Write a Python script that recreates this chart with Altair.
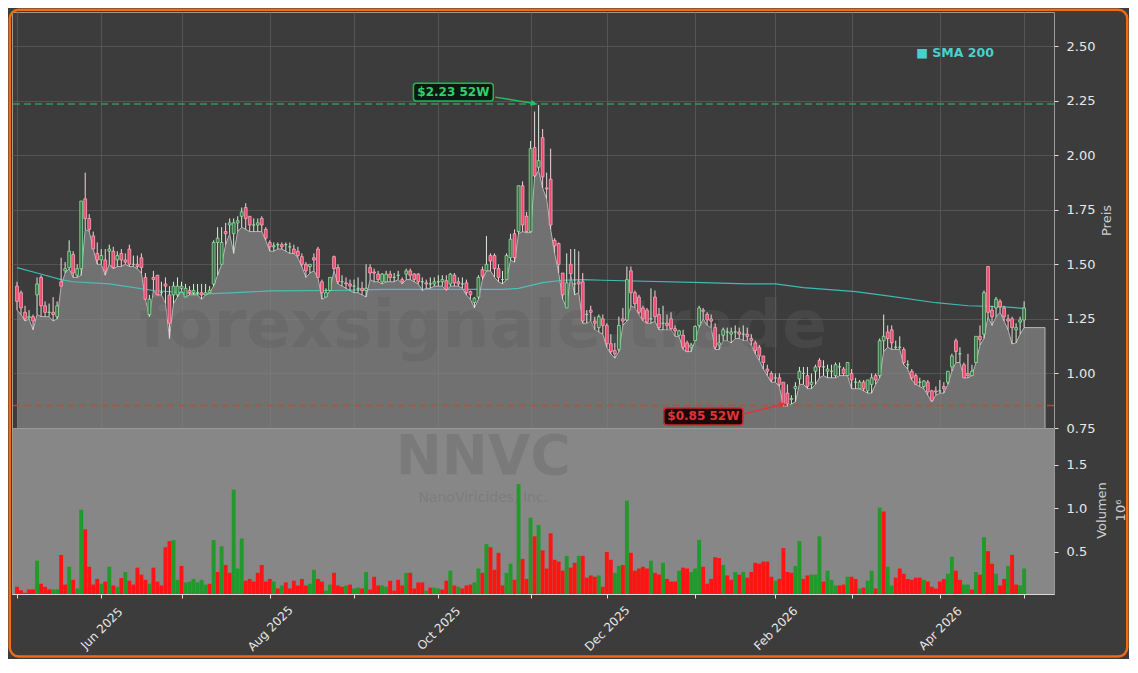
import altair as alt
import pandas as pd

# ---------------- data ----------------
OPEN = [1.40,1.37,1.28,1.255,1.26,1.36,1.44,1.31,1.28,1.28,1.26,1.42,1.47,1.485,1.545,1.45,1.48,1.80,1.71,1.63,
        1.55,1.52,1.52,1.56,1.56,1.52,1.55,1.52,1.57,1.50,1.50,1.53,1.44,1.27,1.44,1.45,1.37,1.41,1.36,1.36,
        1.36,1.39,1.35,1.38,1.37,1.37,1.37,1.36,1.37,1.41,1.60,1.50,1.65,1.68,1.64,1.69,1.72,1.76,1.72,1.68,
        1.68,1.71,1.66,1.60,1.58,1.59,1.59,1.59,1.58,1.57,1.56,1.535,1.50,1.49,1.53,1.57,1.42,1.35,1.38,1.535,
        1.485,1.42,1.415,1.41,1.40,1.39,1.39,1.38,1.485,1.465,1.455,1.42,1.42,1.455,1.44,1.45,1.43,1.455,1.47,1.455,
        1.455,1.42,1.415,1.41,1.41,1.42,1.42,1.425,1.41,1.45,1.42,1.41,1.415,1.375,1.325,1.35,1.475,1.47,1.54,1.54,
        1.48,1.43,1.43,1.53,1.64,1.65,1.86,1.72,1.65,2.035,1.945,2.08,1.85,1.89,1.61,1.595,1.46,1.30,1.50,1.41,
        1.42,1.42,1.27,1.29,1.24,1.21,1.25,1.22,1.136,1.105,1.11,1.25,1.245,1.47,1.37,1.35,1.30,1.29,1.25,1.35,
        1.27,1.23,1.23,1.25,1.205,1.175,1.175,1.14,1.12,1.15,1.22,1.29,1.27,1.25,1.21,1.13,1.175,1.19,1.18,1.19,
        1.19,1.18,1.18,1.16,1.14,1.12,1.08,1.02,1.00,0.98,0.98,0.96,0.91,0.88,0.93,0.975,1.00,0.99,0.95,1.01,
        1.06,1.03,1.01,1.01,0.99,1.03,1.02,0.99,1.00,0.96,0.93,0.96,0.92,0.95,0.99,0.99,1.15,1.19,1.20,1.12,
        1.12,1.11,1.04,1.01,0.99,0.96,0.94,0.96,0.92,0.92,0.92,0.94,0.96,1.03,1.15,1.09,1.04,1.00,0.99,1.05,
        1.17,1.18,1.49,1.29,1.30,1.33,1.30,1.25,1.25,1.20,1.235,1.245]
HIGH = [1.42,1.38,1.31,1.29,1.27,1.44,1.45,1.33,1.32,1.35,1.33,1.53,1.51,1.61,1.56,1.50,1.79,1.92,1.73,1.65,
        1.60,1.57,1.57,1.59,1.58,1.56,1.57,1.55,1.59,1.54,1.54,1.55,1.46,1.36,1.47,1.45,1.42,1.44,1.40,1.42,
        1.44,1.42,1.41,1.40,1.41,1.41,1.41,1.41,1.40,1.61,1.67,1.67,1.69,1.71,1.71,1.72,1.76,1.78,1.72,1.71,
        1.71,1.72,1.67,1.61,1.60,1.60,1.60,1.60,1.60,1.59,1.58,1.55,1.51,1.50,1.55,1.58,1.43,1.39,1.44,1.54,
        1.50,1.45,1.44,1.43,1.43,1.44,1.42,1.50,1.50,1.48,1.47,1.46,1.47,1.47,1.46,1.47,1.44,1.48,1.48,1.46,
        1.46,1.44,1.43,1.44,1.44,1.45,1.45,1.45,1.46,1.46,1.44,1.44,1.43,1.38,1.35,1.45,1.49,1.63,1.55,1.55,
        1.50,1.47,1.55,1.64,1.66,1.86,1.88,1.74,2.065,2.20,2.23,2.12,1.92,2.03,1.62,1.60,1.46,1.55,1.57,1.57,
        1.56,1.46,1.29,1.31,1.26,1.27,1.27,1.23,1.18,1.14,1.26,1.30,1.49,1.49,1.38,1.36,1.31,1.30,1.39,1.38,
        1.30,1.31,1.27,1.28,1.22,1.20,1.20,1.15,1.14,1.22,1.31,1.30,1.28,1.27,1.23,1.18,1.21,1.21,1.21,1.22,
        1.21,1.22,1.21,1.18,1.15,1.13,1.08,1.04,1.01,1.00,1.00,0.96,0.95,0.90,0.96,1.03,1.03,1.03,1.00,1.04,
        1.07,1.06,1.04,1.04,1.05,1.05,1.03,1.05,1.02,0.98,0.97,0.97,0.97,1.00,1.00,1.16,1.27,1.22,1.22,1.15,
        1.17,1.12,1.06,1.02,1.00,0.98,0.97,0.97,0.925,0.94,0.97,0.96,1.01,1.09,1.16,1.12,1.05,1.09,1.04,1.17,
        1.22,1.38,1.49,1.31,1.35,1.34,1.31,1.27,1.26,1.23,1.26,1.33]
LOW = [1.29,1.27,1.24,1.25,1.20,1.27,1.26,1.26,1.26,1.24,1.25,1.40,1.46,1.48,1.44,1.44,1.45,1.66,1.65,1.57,
       1.50,1.50,1.45,1.50,1.48,1.49,1.49,1.50,1.49,1.49,1.48,1.46,1.34,1.26,1.38,1.36,1.36,1.32,1.16,1.32,
       1.35,1.38,1.35,1.36,1.36,1.36,1.34,1.36,1.37,1.40,1.45,1.50,1.59,1.64,1.55,1.65,1.67,1.66,1.65,1.65,
       1.65,1.65,1.61,1.56,1.56,1.57,1.57,1.56,1.55,1.55,1.53,1.49,1.44,1.46,1.47,1.44,1.34,1.35,1.38,1.47,
       1.41,1.40,1.39,1.38,1.37,1.37,1.36,1.35,1.43,1.42,1.42,1.41,1.42,1.42,1.42,1.43,1.41,1.43,1.43,1.42,
       1.41,1.38,1.39,1.39,1.40,1.40,1.40,1.38,1.40,1.40,1.40,1.39,1.36,1.34,1.30,1.34,1.43,1.47,1.47,1.44,
       1.42,1.41,1.43,1.52,1.51,1.64,1.65,1.645,1.645,1.90,1.93,1.85,1.80,1.66,1.55,1.46,1.34,1.30,1.45,1.36,
       1.37,1.23,1.23,1.24,1.20,1.19,1.18,1.12,1.09,1.07,1.10,1.22,1.24,1.31,1.30,1.27,1.24,1.23,1.23,1.24,
       1.20,1.20,1.20,1.20,1.17,1.17,1.11,1.10,1.10,1.15,1.21,1.25,1.22,1.21,1.11,1.11,1.15,1.15,1.14,1.16,
       1.16,1.15,1.15,1.13,1.09,1.06,1.02,0.99,0.96,0.96,0.94,0.85,0.85,0.86,0.87,0.95,0.95,0.93,0.93,0.95,
       0.98,0.99,0.98,0.98,0.98,0.99,0.99,0.99,0.93,0.93,0.93,0.92,0.91,0.91,0.95,0.98,1.10,1.12,1.11,1.11,
       1.11,1.04,1.02,0.97,0.95,0.94,0.93,0.90,0.87,0.90,0.91,0.91,0.95,1.01,1.05,1.05,0.98,0.98,0.99,1.05,
       1.13,1.16,1.26,1.22,1.26,1.28,1.24,1.20,1.135,1.14,1.18,1.21]
CLOSE = [1.33,1.30,1.25,1.26,1.24,1.41,1.31,1.28,1.28,1.27,1.31,1.40,1.48,1.56,1.46,1.48,1.79,1.71,1.66,1.57,
         1.52,1.54,1.47,1.57,1.485,1.54,1.52,1.51,1.50,1.50,1.49,1.485,1.34,1.34,1.43,1.36,1.37,1.40,1.23,1.40,
         1.40,1.40,1.39,1.37,1.38,1.37,1.36,1.37,1.38,1.60,1.62,1.60,1.64,1.69,1.69,1.70,1.74,1.71,1.68,1.68,
         1.69,1.68,1.62,1.58,1.585,1.59,1.58,1.59,1.58,1.55,1.54,1.50,1.47,1.50,1.52,1.44,1.37,1.37,1.44,1.48,
         1.42,1.42,1.41,1.40,1.40,1.39,1.38,1.39,1.46,1.46,1.43,1.455,1.455,1.44,1.44,1.45,1.42,1.47,1.45,1.43,
         1.42,1.42,1.41,1.41,1.42,1.42,1.43,1.385,1.455,1.415,1.41,1.41,1.37,1.36,1.345,1.44,1.445,1.50,1.515,1.48,
         1.44,1.43,1.54,1.615,1.53,1.86,1.68,1.65,2.03,1.905,1.975,1.90,1.845,1.68,1.585,1.50,1.36,1.415,1.457,1.41,
         1.41,1.24,1.27,1.28,1.23,1.26,1.22,1.136,1.10,1.09,1.22,1.24,1.43,1.37,1.32,1.28,1.25,1.235,1.25,1.26,
         1.21,1.23,1.22,1.205,1.195,1.195,1.12,1.10,1.13,1.215,1.30,1.285,1.245,1.24,1.12,1.14,1.20,1.19,1.19,1.19,
         1.18,1.18,1.17,1.15,1.105,1.08,1.05,1.01,0.97,0.98,0.95,0.86,0.86,0.885,0.94,1.01,1.00,0.94,0.96,1.03,
         1.03,1.03,1.02,1.01,1.04,1.03,1.00,1.05,0.97,0.96,0.96,0.93,0.97,0.98,0.97,1.15,1.17,1.16,1.14,1.12,
         1.12,1.05,1.04,0.98,0.95,0.96,0.965,0.915,0.875,0.915,0.92,0.93,1.01,1.08,1.10,1.09,0.98,0.99,1.01,1.17,
         1.155,1.37,1.28,1.26,1.34,1.305,1.26,1.24,1.21,1.21,1.245,1.30]
# volume in millions of shares
VOLUME = [0.10,0.06,0.03,0.07,0.07,0.40,0.135,0.10,0.07,0.07,0.07,0.466,0.125,0.33,0.18,0.08,0.985,0.76,0.33,0.125,
          0.19,0.135,0.16,0.33,0.115,0.10,0.20,0.27,0.17,0.125,0.32,0.24,0.18,0.135,0.32,0.16,0.115,0.555,0.625,0.636,
          0.18,0.34,0.15,0.16,0.19,0.15,0.18,0.125,0.135,0.636,0.27,0.565,0.35,0.26,1.216,0.31,0.655,0.17,0.19,0.16,
          0.26,0.35,0.16,0.19,0.16,0.08,0.115,0.15,0.08,0.17,0.115,0.19,0.115,0.135,0.295,0.19,0.16,0.055,0.125,0.26,
          0.115,0.10,0.115,0.125,0.08,0.09,0.08,0.27,0.068,0.215,0.115,0.115,0.10,0.17,0.055,0.18,0.115,0.26,0.26,0.08,
          0.15,0.15,0.055,0.09,0.09,0.08,0.068,0.17,0.285,0.115,0.10,0.08,0.115,0.125,0.15,0.31,0.26,0.59,0.555,0.295,
          0.49,0.115,0.26,0.365,0.18,1.28,0.42,0.19,0.894,0.68,0.81,0.52,0.31,0.715,0.41,0.39,0.285,0.455,0.32,0.375,
          0.455,0.455,0.205,0.23,0.215,0.23,0.10,0.50,0.41,0.26,0.34,0.35,1.09,0.49,0.285,0.31,0.33,0.31,0.40,0.26,
          0.24,0.375,0.19,0.16,0.16,0.285,0.32,0.31,0.27,0.31,0.64,0.33,0.135,0.19,0.44,0.43,0.35,0.23,0.18,0.27,
          0.24,0.27,0.205,0.27,0.375,0.365,0.39,0.39,0.215,0.17,0.19,0.545,0.27,0.26,0.34,0.625,0.19,0.23,0.24,0.24,
          0.68,0.16,0.285,0.18,0.115,0.115,0.125,0.215,0.215,0.19,0.08,0.09,0.17,0.285,0.08,1.01,0.965,0.33,0.115,0.205,
          0.31,0.25,0.19,0.18,0.205,0.205,0.18,0.16,0.10,0.08,0.16,0.19,0.25,0.445,0.285,0.18,0.125,0.125,0.068,0.27,
          0.24,0.67,0.51,0.365,0.25,0.115,0.19,0.34,0.466,0.125,0.115,0.31]
VOL_DIR = ("rrrrrgrrrggrrgrggrrr" "rgrgrgrgrrrrrgrrrrrg" "grggggggrgrgrrgggrrr" "rrrrgrgrrrrrrggrrggr"
           "rrgrggrgrrrggrrrrgrr" "rrgrggrrgrgrrrggrgrr" "rrggrgrrgrgrrrrrrgrr" "grrrrgrrrggrgrrrrrgr"
           "rgrrrgrrgggrrrrrgrrg" "rgrrrrrrrgrrrrggrrgg" "grgggrrgrrgrggrgrggr" "rrrrrrgrrrrrggrrggrg"
           "rgrrgrrgrrgg")
SMA_IDX = [0, 5, 11, 14, 23, 34, 46, 54.5, 63, 79, 91, 121, 125, 131, 136, 141, 146, 171, 182, 189, 196, 209, 217,
           229, 237, 246, 251]
SMA_VAL = [1.485, 1.46, 1.43, 1.42, 1.41, 1.38, 1.363, 1.37, 1.378, 1.38, 1.385, 1.385, 1.39, 1.416, 1.427, 1.43,
           1.427, 1.416, 1.41, 1.41, 1.393, 1.375, 1.355, 1.324, 1.31, 1.305, 1.298]
MONTH_TICKS = [0, 21, 41, 63, 84, 105, 128, 147, 169, 189, 208, 230, 251]
MONTH_LABELS = ["", "Jun 2025", "", "Aug 2025", "", "Oct 2025", "", "Dec 2025", "", "Feb 2026", "", "Apr 2026", ""]
PRICE_TICKS = [0.75, 1.00, 1.25, 1.50, 1.75, 2.00, 2.25, 2.50]
VOL_TICKS = [0.5, 1.0, 1.5]
PRICE_DOMAIN = [0.75, 2.656]
VOL_DOMAIN = [0.017, 1.925]
X_DOMAIN = [0, 257.2]
AREA_END_IDX = 256.2
HIGH_52W = 2.234
LOW_52W = 0.853
HIGH_LABEL = "$2.23 52W"
LOW_LABEL = "$0.85 52W"

# ---------------- tables ----------------
n = len(CLOSE)
df = pd.DataFrame({"i": list(range(n)), "o": OPEN, "h": HIGH, "l": LOW, "c": CLOSE})
vol = pd.DataFrame({"i": list(range(n)), "v": VOLUME, "d": list(VOL_DIR[:n])})
area_df = pd.DataFrame({"i": list(range(n)) + [AREA_END_IDX], "l": LOW + [LOW[-1]]})
sma_df = pd.DataFrame({"i": SMA_IDX, "s": SMA_VAL})
one = pd.DataFrame({"k": [0]})

FONT = "DejaVu Sans"
BG = "#3c3c3c"
W = 1042
HP = 416
HV = 166

xs = alt.Scale(domain=X_DOMAIN, nice=False, zero=False)
ps = alt.Scale(domain=PRICE_DOMAIN, nice=False, zero=False)
vs = alt.Scale(domain=VOL_DOMAIN, nice=False, zero=False)

x_price = alt.X("i:Q", scale=xs, axis=alt.Axis(values=MONTH_TICKS, labels=False, ticks=False, domain=False,
                                                grid=True, gridColor="#5b5b5b", gridWidth=0.8, title=None))
y_price_axis = alt.Axis(orient="right", values=PRICE_TICKS, format=".2f", grid=True, gridColor="#5b5b5b",
                        gridWidth=0.8, domain=False, tickColor="#dddddd", tickSize=4, labelColor="#e8e8e8",
                        labelFontSize=13, labelFont=FONT, labelPadding=8, title="Preis", titleColor="#cfcfcf",
                        titleFontSize=13, titleFont=FONT, titleFontWeight="normal", titleAngle=270,
                        titleAlign="center", titleBaseline="middle", titleX=52, titleY=HP / 2)

area = alt.Chart(area_df).mark_area(color="#888888", clip=True,
                                     line={"color": "#b5b5b5", "strokeWidth": 1}).encode(
    x=x_price, y=alt.Y("l:Q", scale=ps, axis=y_price_axis), y2=alt.datum(PRICE_DOMAIN[0]))
area_edge = alt.Chart(one).mark_rule(color="#b5b5b5", strokeWidth=1).encode(
    x=alt.datum(AREA_END_IDX), y=alt.datum(LOW[-1]), y2=alt.datum(PRICE_DOMAIN[0]))

wm1 = alt.Chart(one).mark_text(text="forexsignale.trade", font=FONT, fontSize=66, fontWeight="bold",
                               color="#5e5e5e", opacity=0.35, align="center", baseline="middle").encode(
    x=alt.datum(116.2), y=alt.datum(1.213))

hline = alt.Chart(one).mark_rule(color="#33a862", strokeWidth=1.5, strokeDash=[7, 4], opacity=0.85).encode(
    y=alt.datum(HIGH_52W))
lline = alt.Chart(one).mark_rule(color="#e03a3a", strokeWidth=1.5, strokeDash=[7, 4], opacity=0.85).encode(
    y=alt.datum(LOW_52W))

sma = alt.Chart(sma_df).mark_line(color="#40d0c4", strokeWidth=1.2, opacity=0.85).encode(
    x=alt.X("i:Q", scale=xs), y=alt.Y("s:Q", scale=ps))

up = "datum.c >= datum.o"
wick = alt.Chart(df).mark_rule(strokeWidth=1, clip=True).encode(
    x=alt.X("i:Q", scale=xs), y=alt.Y("l:Q", scale=ps), y2="h:Q",
    color=alt.condition(up, alt.value("#d6efd9"), alt.value("#f2d3da")))
body = alt.Chart(df).mark_bar(size=2.8, strokeWidth=0.8, clip=True).encode(
    x=alt.X("i:Q", scale=xs), y=alt.Y("o:Q", scale=ps), y2="c:Q",
    fill=alt.condition(up, alt.value("#3f6f4a"), alt.value("#f0476d")),
    stroke=alt.condition(up, alt.value("#8fe59c"), alt.value("#f7a9bb")))

sma_leg = alt.Chart(one).mark_text(text="\u25a0 SMA 200", font=FONT, fontSize=12.5, fontWeight="bold",
                                   color="#48d1cc", align="left", baseline="middle").encode(
    x=alt.datum(224.1), y=alt.datum(2.47))

# 52W high annotation
hbox = alt.Chart(one).mark_rect(fill="#0b1a10", stroke="#22b356", strokeWidth=1.5, cornerRadius=3).encode(
    x=alt.datum(98.8), x2=alt.datum(118.7), y=alt.datum(2.330), y2=alt.datum(2.248))
htext = alt.Chart(one).mark_text(text=HIGH_LABEL, font=FONT, fontSize=12, fontWeight="bold", color="#2fd16f",
                                 align="center", baseline="middle").encode(x=alt.datum(108.75), y=alt.datum(2.289))
harrow = alt.Chart(one).mark_rule(color="#22c25e", strokeWidth=1.5).encode(
    x=alt.datum(119.2), x2=alt.datum(128.6), y=alt.datum(2.266), y2=alt.datum(2.238))
hhead = alt.Chart(one).mark_point(shape="triangle-right", filled=True, size=45, angle=10, color="#22c25e",
                                  opacity=1).encode(x=alt.datum(128.8), y=alt.datum(2.237))
# 52W low annotation
lbox = alt.Chart(one).mark_rect(fill="#1c0808", stroke="#c92a2a", strokeWidth=1.5, cornerRadius=3).encode(
    x=alt.datum(161.2), x2=alt.datum(180.9), y=alt.datum(0.842), y2=alt.datum(0.764))
ltext = alt.Chart(one).mark_text(text=LOW_LABEL, font=FONT, fontSize=12, fontWeight="bold", color="#e23434",
                                 align="center", baseline="middle").encode(x=alt.datum(171.05), y=alt.datum(0.803))
larrow = alt.Chart(one).mark_rule(color="#e23434", strokeWidth=1.5).encode(
    x=alt.datum(180.9), x2=alt.datum(190.6), y=alt.datum(0.814), y2=alt.datum(0.857))
lhead = alt.Chart(one).mark_point(shape="triangle-right", filled=True, size=45, angle=348, color="#e23434",
                                  opacity=1).encode(x=alt.datum(190.8), y=alt.datum(0.858))

price = alt.layer(area, area_edge, wm1, hline, lline, sma, wick, body, sma_leg,
                  hbox, htext, harrow, hhead, lbox, ltext, larrow, lhead).properties(
    width=W, height=HP, view=alt.ViewBackground(fill=BG, stroke="#9a9a9a", strokeWidth=1))

# ---------------- volume panel ----------------
label_expr = "''"
for t, lab in zip(reversed(MONTH_TICKS), reversed(MONTH_LABELS)):
    label_expr = f"datum.value == {t} ? '{lab}' : ({label_expr})"

x_vol = alt.X("i:Q", scale=xs, axis=alt.Axis(values=MONTH_TICKS, labelExpr=label_expr, grid=False,
                                              domain=True, domainColor="#d8d8d8", tickColor="#e0e0e0",
                                              tickSize=4, labelAngle=-45, labelAlign="center",
                                              labelBaseline="middle", labelPadding=30, labelColor="#e8e8e8",
                                              labelFontSize=12, labelFont=FONT, labelFlush=False,
                                              labelOverlap=False, title=None))
y_vol_axis = alt.Axis(orient="right", values=VOL_TICKS, format=".1f", grid=False, domain=False,
                      tickColor="#dddddd", tickSize=4, labelColor="#e8e8e8", labelFontSize=13, labelFont=FONT,
                      labelPadding=8, title=["Volumen", "10\u2076"], titleColor="#cfcfcf", titleFontSize=13,
                      titleFont=FONT, titleFontWeight="normal", titleAngle=270, titleAlign="center",
                      titleBaseline="middle", titleLineHeight=19, titleX=47, titleY=82)

vbars = alt.Chart(vol).mark_bar(size=3.9, clip=True).encode(
    x=x_vol, y=alt.Y("v:Q", scale=vs, axis=y_vol_axis), y2=alt.datum(VOL_DOMAIN[0]),
    color=alt.Color("d:N", scale=alt.Scale(domain=["g", "r"], range=["#22992a", "#ff1414"]), legend=None))

wm2 = alt.Chart(one).mark_text(text="NNVC", font=FONT, fontSize=55, fontWeight="bold", color="#5e5e5e",
                               opacity=0.3, align="center", baseline="middle").encode(
    x=alt.datum(116.2), y=alt.datum(1.59))
wm3 = alt.Chart(one).mark_text(text="NanoViricides, Inc.", font=FONT, fontSize=14, color="#6a6a6a",
                               opacity=0.35, align="center", baseline="middle").encode(
    x=alt.datum(116.2), y=alt.datum(1.125))

border = alt.Chart(one).mark_rect(filled=False, stroke="#f26a13", strokeWidth=2.5, cornerRadius=9).encode(
    x=alt.value(-2.25), x2=alt.value(1115.25), y=alt.value(-418.25), y2=alt.value(228.5))

volume = alt.layer(wm2, wm3, vbars, border).properties(
    width=W, height=HV, view=alt.ViewBackground(fill="#878787", stroke="#9a9a9a", strokeWidth=1))

chart = alt.vconcat(price, volume, spacing=0, bounds="flush").properties(
    background=BG, padding=0).configure_view(strokeWidth=1)

chart.save("out.html", embed_options={"renderer": "svg", "actions": False})
